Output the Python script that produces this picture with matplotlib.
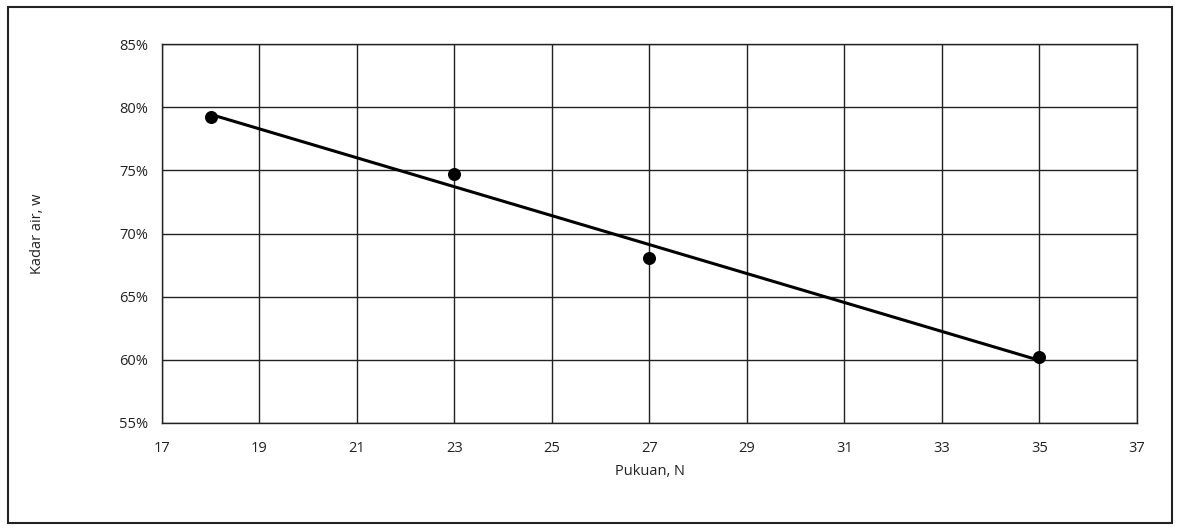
import numpy as np
import matplotlib
matplotlib.use("Agg")
import matplotlib.pyplot as plt
from matplotlib.patches import Rectangle
from matplotlib.ticker import PercentFormatter

# data
pukuan = [18, 23, 27, 35]
kadar_air = [79.2, 74.7, 68.1, 60.2]

x_ticks = list(range(17, 38, 2))
y_ticks = list(range(55, 86, 5))

plt.rcParams['font.family'] = ['Open Sans', 'DejaVu Sans']

fig = plt.figure(figsize=(11.84, 5.29), dpi=100)
ax = fig.add_axes([0.1368, 0.2004, 0.8235, 0.7164])

# linear trendline through the points
k, b = np.polyfit(pukuan, kadar_air, 1)
xs = np.array([min(pukuan), max(pukuan)])
ax.plot(xs, k * xs + b, color='black', lw=2.2, zorder=3)
ax.scatter(pukuan, kadar_air, s=70, color='black', zorder=4)

ax.set_xlim(17, 37)
ax.set_ylim(55, 85)
ax.set_xticks(x_ticks)
ax.set_yticks(y_ticks)
ax.yaxis.set_major_formatter(PercentFormatter(decimals=0))
ax.grid(True, color='#222222', lw=1.0)
ax.set_axisbelow(True)
ax.tick_params(axis='x', length=0, labelsize=10.5, colors='#222222', pad=13)
ax.tick_params(axis='y', length=0, labelsize=10.5, colors='#222222', pad=10)
for s in ax.spines.values():
    s.set_color('#222222')
    s.set_linewidth(1.0)

ax.set_xlabel('Pukuan, N', fontsize=10.5, labelpad=6, color='#222222')
ax.set_ylabel('Kadar air, w', fontsize=10.5, labelpad=53, color='#222222')

# outer chart frame
fig.patches.append(Rectangle((8 / 1184, 6 / 529), 1164 / 1184, 516 / 529,
                             transform=fig.transFigure, fill=False,
                             edgecolor='#222222', lw=1.5))

fig.savefig('out.png', dpi=100)
